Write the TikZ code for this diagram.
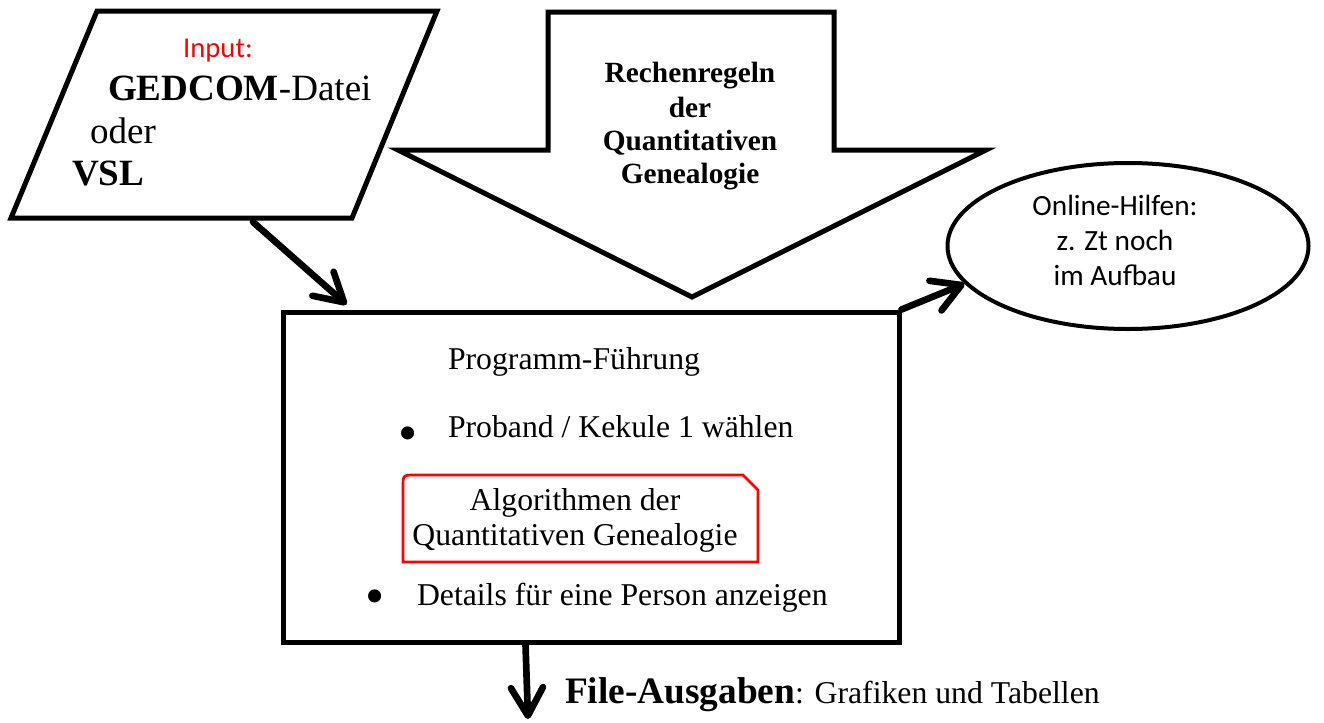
\documentclass[tikz,border=0pt]{standalone}
\usepackage{fontspec}
\setmainfont{Liberation Serif}
\newfontfamily\calib{Carlito}
\usetikzlibrary{shapes.geometric,arrows.meta,calc}
\begin{document}
\begin{tikzpicture}[x=0.75pt,y=-0.75pt,
  shapeline/.style={line width=3.75pt, line join=miter},
  conn/.style={line width=5pt, line cap=round, -{Straight Barb[length=21pt,width=24pt,round]}},
  txt/.style={inner sep=0pt, outer sep=0pt},
  boxfont/.style={txt, font=\fontsize{23.8}{28}\selectfont},
  bulletfont/.style={txt, font=\fontsize{41}{41}\selectfont},
  infont/.style={txt, font=\fontsize{27.8}{32}\selectfont},
  rulefont/.style={txt, font=\fontsize{22}{26}\selectfont\bfseries},
  sansfont/.style={txt, font=\fontsize{22}{26}\selectfont\calib},
]
\useasboundingbox (0,0) rectangle (1324,722);

% input parallelogram
\draw[shapeline] (97,11) -- (437,11) -- (352,218) -- (11,218) -- cycle;
\coordinate (inA) at (253,222);
\node[sansfont, text=red, anchor=base, font=\fontsize{21.5}{26}\selectfont\calib] (inputlbl) at (218,57) {Input:};
\node[infont, anchor=base west] (gedcom) at (108,100) {\textbf{GEDCOM}-Datei};
\node[infont, anchor=base west] (oder) at (90,143) {oder};
\node[infont, anchor=base west] (vsl) at (72,185) {\textbf{VSL}};

% block arrow (rules)
\draw[shapeline] (548,12) -- (834,12) -- (834,150) -- (986,150) -- (692,297) -- (398,150) -- (548,150) -- cycle;
\node[rulefont, anchor=base] (r1) at (690,82) {Rechenregeln};
\node[rulefont, anchor=base] (r2) at (690,117) {der};
\node[rulefont, anchor=base] (r3) at (690,150) {Quantitativen};
\node[rulefont, anchor=base] (r4) at (690,183) {Genealogie};

% ellipse
\node[draw, ellipse, line width=3pt, inner sep=0pt, minimum width=270.75pt, minimum height=124.5pt] (ell) at (1128,246) {};
\node[sansfont, anchor=base] (e1) at (1115,215) {Online-Hilfen:};
\node[sansfont, anchor=base] (e2) at (1115,250) {z. Zt noch};
\node[sansfont, anchor=base] (e3) at (1115,285) {im Aufbau};

% main box
\node[draw, rectangle, line width=3.75pt, inner sep=0pt, minimum width=462pt, minimum height=247.5pt] (box) at (591,477) {};
\node[boxfont, anchor=base west] (prog) at (448,369) {Programm-Führung};
\node[bulletfont, anchor=base] (b1) at (408,451) {•};
\node[boxfont, anchor=base west] (proband) at (448,437) {Proband / Kekule 1 wählen};
\draw[red, line width=2pt, line join=miter] (403,562) -- (403,487) .. controls (403,475) .. (415,475) -- (743,475) -- (758,490) -- (758,562) -- cycle;
\node[boxfont, anchor=base] (alg1) at (575,510) {Algorithmen der};
\node[boxfont, anchor=base] (alg2) at (575,545) {Quantitativen Genealogie};
\node[bulletfont, anchor=base] (b2) at (375,614) {•};
\node[boxfont, anchor=base west] (details) at (417,605) {Details für eine Person anzeigen};

% output
\coordinate (outA) at ($(box.south west)+(245,0)$);
\coordinate (outB) at (528,719);
\node[txt, anchor=base west, font=\fontsize{23.8}{28}\selectfont] (out) at (565,703) {{\fontsize{28}{32}\selectfont\bfseries File-Ausgaben}: Grafiken und Tabellen};

% connectors
\coordinate (inB) at ($(box.north west)+(66,-5)$);
\draw[conn] (inA) -- (inB);
\draw[conn] (box.north east) -- (ell.193);
\draw[conn] (outA) -- (outB);
\end{tikzpicture}
\end{document}
